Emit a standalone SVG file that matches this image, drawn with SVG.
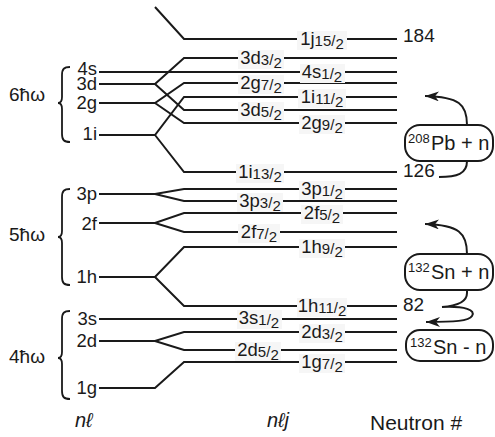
<svg xmlns="http://www.w3.org/2000/svg" width="495" height="437" viewBox="0 0 495 437">
<style>
.ln{stroke:#1a1a1a;stroke-width:2;fill:none}
.br{stroke:#1a1a1a;stroke-width:1.8;fill:none}
.t{font-family:"Liberation Sans",Arial,sans-serif;fill:#1a1a1a}
.m{font-size:18.5px}
.s{font-size:15px}
.bg{fill:#f6f6f6}
.box{fill:#fff;stroke:#1a1a1a;stroke-width:2}
.it{font-family:"Liberation Sans","DejaVu Sans",sans-serif;font-style:italic;font-size:20px;fill:#1a1a1a}
</style>
<defs>
<marker id="ah" markerUnits="userSpaceOnUse" markerWidth="16" markerHeight="12" refX="14" refY="5" orient="auto">
<path d="M0,0 L14,5 L0,10 L4,5 Z" fill="#1a1a1a"/>
</marker>
</defs>
<rect width="495" height="437" fill="#fff"/>
<g id="connectors">
<path class="ln" d="M155,7 L184,39 H397"/>
<path class="ln" d="M99,72 H397"/>
<path class="ln" d="M99,84 H155 L184,58 H397 M155,84 L184,110 H397"/>
<path class="ln" d="M99,103 H155 L184,83 H397 M155,103 L184,123 H397"/>
<path class="ln" d="M99,135 H155 L184,97 H397 M155,135 L184,172 H397"/>
<path class="ln" d="M99,194 H155 L184,189 H397 M155,194 L184,201 H397"/>
<path class="ln" d="M99,223 H155 L184,213 H397 M155,223 L184,232 H397"/>
<path class="ln" d="M99,277 H155 L184,247 H397 M155,277 L184,306 H397"/>
<path class="ln" d="M99,319 H397"/>
<path class="ln" d="M99,341 H155 L184,332 H397 M155,341 L184,350 H397"/>
<path class="ln" d="M99,388 H155 L184,362 H397"/>
<path class="ln" marker-end="url(#ah)" d="M467,125 C467,104 459,97 425,96"/>
<path class="ln" d="M467,161 C467,174 457,177 439,177"/>
<path class="ln" marker-end="url(#ah)" d="M467,254 C467,233 459,225 425,224"/>
<path class="ln" d="M467,290 V293 C467,302 456,306 442,307 C465,306 476,310 472,316 C469,321 455,322 426,322" marker-end="url(#ah)"/>
</g>
<g id="shell-6">
<path class="br" d="M70,67 C64,67 62,69 62,75 V97 C62,101 61,103 58,103 C61,103 62,105 62,109 V134 C62,140 64,142 70,142"/>
<text class="t" x="9" y="101" font-size="19">6ħω</text>
<text class="t m" x="97" y="75" text-anchor="end">4s</text>
<text class="t m" x="97" y="90" text-anchor="end">3d</text>
<text class="t m" x="97" y="109" text-anchor="end">2g</text>
<text class="t m" x="97" y="140" text-anchor="end">1i</text>
</g>
<g id="shell-5">
<path class="br" d="M70,189 C64,189 62,191 62,197 V231 C62,235 61,237 58,237 C61,237 62,239 62,243 V277 C62,283 64,285 70,285"/>
<text class="t" x="9" y="241" font-size="19">5ħω</text>
<text class="t m" x="97" y="200" text-anchor="end">3p</text>
<text class="t m" x="97" y="229.5" text-anchor="end">2f</text>
<text class="t m" x="97" y="283" text-anchor="end">1h</text>
</g>
<g id="shell-4">
<path class="br" d="M70,311 C64,311 62,313 62,319 V352 C62,356 61,358 58,358 C61,358 62,360 62,364 V391 C62,397 64,399 70,399"/>
<text class="t" x="9" y="363" font-size="19">4ħω</text>
<text class="t m" x="97" y="325" text-anchor="end">3s</text>
<text class="t m" x="97" y="347" text-anchor="end">2d</text>
<text class="t m" x="97" y="394" text-anchor="end">1g</text>
</g>
<g id="levels">
<rect class="bg" x="297" y="31" width="50" height="19"/>
<text class="t m" x="322" y="45" text-anchor="middle">1j<tspan class="s" dy="0.5">15/</tspan><tspan class="s" dy="3.5">2</tspan></text>
<rect class="bg" x="238" y="50" width="46" height="19"/>
<text class="t m" x="261" y="64" text-anchor="middle">3d<tspan class="s" dy="0.5">3/</tspan><tspan class="s" dy="3.5">2</tspan></text>
<rect class="bg" x="300" y="64" width="45" height="19"/>
<text class="t m" x="322" y="78" text-anchor="middle">4s<tspan class="s" dy="0.5">1/</tspan><tspan class="s" dy="3.5">2</tspan></text>
<rect class="bg" x="238" y="75" width="46" height="19"/>
<text class="t m" x="261" y="89" text-anchor="middle">2g<tspan class="s" dy="0.5">7/</tspan><tspan class="s" dy="3.5">2</tspan></text>
<rect class="bg" x="298" y="89" width="48" height="19"/>
<text class="t m" x="322" y="103" text-anchor="middle">1i<tspan class="s" dy="0.5">11/</tspan><tspan class="s" dy="3.5">2</tspan></text>
<rect class="bg" x="238" y="102" width="46" height="19"/>
<text class="t m" x="261" y="116" text-anchor="middle">3d<tspan class="s" dy="0.5">5/</tspan><tspan class="s" dy="3.5">2</tspan></text>
<rect class="bg" x="299" y="115" width="46" height="19"/>
<text class="t m" x="322" y="129" text-anchor="middle">2g<tspan class="s" dy="0.5">9/</tspan><tspan class="s" dy="3.5">2</tspan></text>
<rect class="bg" x="236" y="164" width="48" height="19"/>
<text class="t m" x="260" y="178" text-anchor="middle">1i<tspan class="s" dy="0.5">13/</tspan><tspan class="s" dy="3.5">2</tspan></text>
<rect class="bg" x="299" y="181" width="46" height="19"/>
<text class="t m" x="322" y="195" text-anchor="middle">3p<tspan class="s" dy="0.5">1/</tspan><tspan class="s" dy="3.5">2</tspan></text>
<rect class="bg" x="237" y="193" width="46" height="19"/>
<text class="t m" x="260" y="207" text-anchor="middle">3p<tspan class="s" dy="0.5">3/</tspan><tspan class="s" dy="3.5">2</tspan></text>
<rect class="bg" x="301" y="205" width="42" height="19"/>
<text class="t m" x="322" y="219" text-anchor="middle">2f<tspan class="s" dy="0.5">5/</tspan><tspan class="s" dy="3.5">2</tspan></text>
<rect class="bg" x="238" y="224" width="42" height="19"/>
<text class="t m" x="259" y="238" text-anchor="middle">2f<tspan class="s" dy="0.5">7/</tspan><tspan class="s" dy="3.5">2</tspan></text>
<rect class="bg" x="299" y="239" width="46" height="19"/>
<text class="t m" x="322" y="253" text-anchor="middle">1h<tspan class="s" dy="0.5">9/</tspan><tspan class="s" dy="3.5">2</tspan></text>
<rect class="bg" x="297" y="298" width="50" height="19"/>
<text class="t m" x="322" y="312" text-anchor="middle">1h<tspan class="s" dy="0.5">11/</tspan><tspan class="s" dy="3.5">2</tspan></text>
<rect class="bg" x="237" y="310" width="45" height="19"/>
<text class="t m" x="259" y="324" text-anchor="middle">3s<tspan class="s" dy="0.5">1/</tspan><tspan class="s" dy="3.5">2</tspan></text>
<rect class="bg" x="299" y="324" width="46" height="19"/>
<text class="t m" x="322" y="338" text-anchor="middle">2d<tspan class="s" dy="0.5">3/</tspan><tspan class="s" dy="3.5">2</tspan></text>
<rect class="bg" x="235" y="342" width="46" height="19"/>
<text class="t m" x="258" y="356" text-anchor="middle">2d<tspan class="s" dy="0.5">5/</tspan><tspan class="s" dy="3.5">2</tspan></text>
<rect class="bg" x="299" y="354" width="46" height="19"/>
<text class="t m" x="322" y="368" text-anchor="middle">1g<tspan class="s" dy="0.5">7/</tspan><tspan class="s" dy="3.5">2</tspan></text>
</g>
<g id="magic">
<text class="t" x="403" y="42" font-size="19">184</text>
<text class="t" x="403" y="177" font-size="19">126</text>
<text class="t" x="403" y="311" font-size="19">82</text>
</g>
<g id="pb208">
<rect class="box" x="405" y="125" width="88" height="36" rx="15"/>
<text class="t" x="408" y="143" font-size="13">208</text>
<text class="t" x="431" y="150" font-size="20">Pb + n</text>
</g>
<g id="sn132p">
<rect class="box" x="405" y="254" width="88" height="36" rx="15"/>
<text class="t" x="408" y="272" font-size="13">132</text>
<text class="t" x="431" y="279" font-size="20">Sn + n</text>
</g>
<g id="sn132m">
<rect class="box" x="406" y="330" width="87" height="31" rx="14"/>
<text class="t" x="410" y="347" font-size="13">132</text>
<text class="t" x="433" y="354" font-size="20">Sn - n</text>
</g>
<g id="axis-labels">
<text class="it" x="75" y="427">nℓ</text>
<text class="it" x="267" y="427">nℓj</text>
<text class="t" x="370" y="430" font-size="21">Neutron #</text>
</g>
</svg>
